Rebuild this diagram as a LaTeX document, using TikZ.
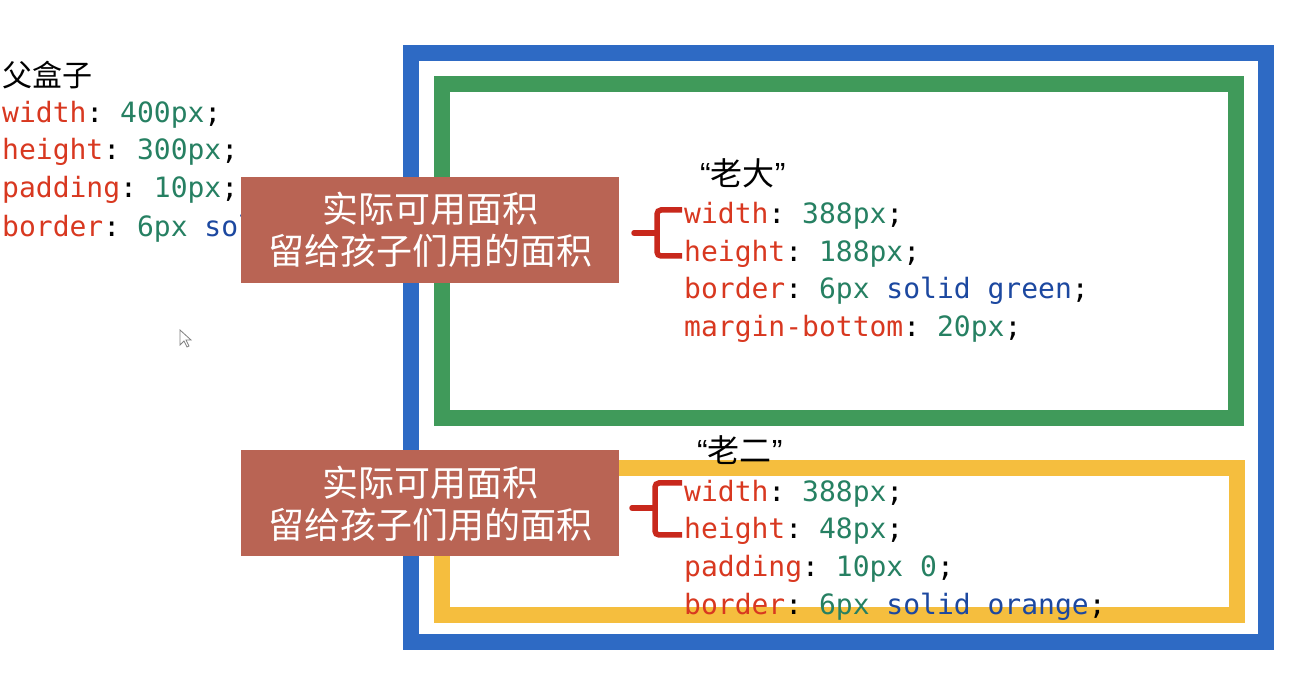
\documentclass[tikz,border=0pt]{standalone}
\usepackage{fontspec}
\setmainfont{Noto Sans CJK SC}
\setmonofont{DejaVu Sans Mono}
\newfontfamily\quotefont{Liberation Sans}
\usepackage{tikz}
\usetikzlibrary{positioning}
\definecolor{box_blue}{RGB}{46,106,196}
\definecolor{box_green}{RGB}{64,154,90}
\definecolor{box_orange}{RGB}{245,190,62}
\definecolor{box_red}{RGB}{185,100,84}
\definecolor{css_prop}{RGB}{216,56,32}
\definecolor{css_val}{RGB}{38,128,98}
\definecolor{css_word}{RGB}{28,72,160}
\definecolor{brace_red}{RGB}{200,40,28}

\begin{document}
\begin{tikzpicture}[x=1pt,y=1pt,
  code_line/.style={anchor=base west,inner sep=0pt,font=\fontsize{28}{34}\ttfamily},
  cn_text/.style={anchor=base west,inner sep=0pt,font=\fontsize{30}{36}\selectfont},
  child_name/.style={cn_text,font=\fontsize{32}{38}\selectfont},
  label_box/.style={fill=box_red,text=white,minimum width=378pt,minimum height=106pt,
    align=center,inner sep=0pt,font=\fontsize{36}{42}\selectfont}]

    \useasboundingbox (0,0) rectangle (1306,690);

    % the three boxes
    \begin{scope}[every path/.style={line width=16pt}]
    \draw[box_blue] (411,637) rectangle (1266,48);
    \draw[box_green] (442,606) rectangle (1236,272);
    \draw[box_orange] (442,222) rectangle (1237,75);
    \end{scope}

    % parent
    \node[cn_text] (parent) at (2,603) {父盒子};
    \node[code_line] (pw) at (2,567) {\textcolor{css_prop}{width}: \textcolor{css_val}{400px};};
    \node[code_line] (ph) at (2,530) {\textcolor{css_prop}{height}: \textcolor{css_val}{300px};};
    \node[code_line] (pp) at (2,492) {\textcolor{css_prop}{padding}: \textcolor{css_val}{10px};};
    \node[code_line] (pb) at (2,453) {\textcolor{css_prop}{border}: \textcolor{css_val}{6px} \textcolor{css_word}{solid blue};};

    \node[label_box] (area1) at (430,460) {实际可用面积\\留给孩子们用的面积};
    \node[label_box] (area2) at (430,186.5) {实际可用面积\\留给孩子们用的面积};

    % first child
    \node[child_name] (first) at (700,504) {{\quotefont “}老大{\quotefont ”}};
    \node[code_line] (fw) at (684,466) {\textcolor{css_prop}{width}: \textcolor{css_val}{388px};};
    \node[code_line] (fh) at (684,428.5) {\textcolor{css_prop}{height}: \textcolor{css_val}{188px};};
    \node[code_line] (fb) at (684,391) {\textcolor{css_prop}{border}: \textcolor{css_val}{6px} \textcolor{css_word}{solid green};};
    \node[code_line] (fm) at (684,353.5) {\textcolor{css_prop}{margin-bottom}: \textcolor{css_val}{20px};};

    % second child
    \node[child_name] (second) at (697,227) {{\quotefont “}老二{\quotefont ”}};
    \node[code_line] (sw) at (684,188) {\textcolor{css_prop}{width}: \textcolor{css_val}{388px};};
    \node[code_line] (sh) at (684,151) {\textcolor{css_prop}{height}: \textcolor{css_val}{48px};};
    \node[code_line] (sp) at (684,113) {\textcolor{css_prop}{padding}: \textcolor{css_val}{10px 0};};
    \node[code_line] (sb) at (684,75) {\textcolor{css_prop}{border}: \textcolor{css_val}{6px} \textcolor{css_word}{solid orange};};

    % braces
    \begin{scope}[every path/.style={draw=brace_red,line width=5.5pt,rounded corners=4pt}]
    \draw (682,480) -| (657,434) -- (682,434);
    \draw[line cap=round] (657,457) -- (634,457);
    \draw (682,207) -| (655,155) -- (682,155);
    \draw[line cap=round] (655,182) -- (632,182);
    \end{scope}

    % cursor
    \draw[gray,fill=white,line width=0.8pt] (180,360) -- (180,345) -- (184,349) -- (187,343)
      -- (189,344) -- (186,350) -- (191,350) -- cycle;
\end{tikzpicture}
\end{document}
